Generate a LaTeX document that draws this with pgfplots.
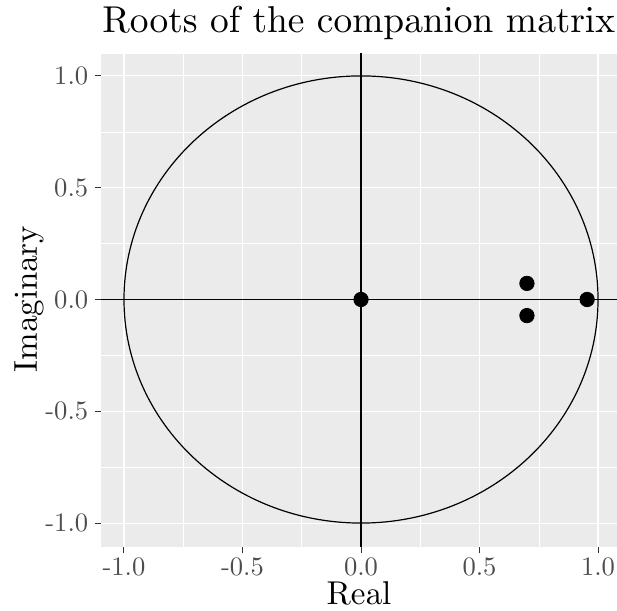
\documentclass[border=0pt]{standalone}
\usepackage{pgfplots}
\pgfplotsset{compat=1.18}
\definecolor{panelbg}{HTML}{EBEBEB}
\definecolor{ticktext}{HTML}{4D4D4D}
\definecolor{tickmark}{HTML}{333333}
\font\titlefont=cmr10 at 18.7pt
\font\labelfont=cmr10 at 16.5pt
\font\tickfont=cmr10 at 13.3pt
\begin{document}
\begin{tikzpicture}
\useasboundingbox (0,0) rectangle (308.5pt,305.5pt);
\begin{axis}[
    at={(50.5pt,32pt)}, anchor=south west,
    scale only axis,
    width=258pt, height=246.5pt,
    xmin=-1.097, xmax=1.08,
    ymin=-1.107, ymax=1.098,
    axis line style={draw=none},
    axis background/.style={fill=panelbg},
    xtick={-1,-0.5,0,0.5,1},
    ytick={-1,-0.5,0,0.5,1},
    xticklabels={-1.0,-0.5,0.0,0.5,1.0},
    yticklabels={-1.0,-0.5,0.0,0.5,1.0},
    minor tick num=1,
    tick align=outside,
    major tick length=3.2pt,
    minor tick length=0pt,
    major tick style={tickmark, line width=0.5pt},
    xmajorgrids, ymajorgrids, xminorgrids, yminorgrids,
    major grid style={white, line width=0.55pt},
    minor grid style={white, line width=0.28pt},
    ticklabel style={font=\tickfont, text=ticktext},
    xticklabel style={inner sep=0pt, yshift=-2.5pt},
    yticklabel style={inner sep=0pt, xshift=-3pt},
    xtick pos=bottom, ytick pos=left,
    clip=true,
]
\draw[black, line width=0.6pt] (axis cs:0,0) ellipse [x radius=1, y radius=1];
\draw[black, line width=0.6pt] (axis cs:-1.2,0) -- (axis cs:1.2,0);
\draw[black, line width=0.6pt] (axis cs:0,-1.2) -- (axis cs:0,1.2);
\addplot[only marks, mark=*, mark size=3.6pt, black] coordinates {
    (0,0) (0.7,0.072) (0.7,-0.072) (0.954,0)
};
\end{axis}
\node[anchor=base west, inner sep=0pt, font=\titlefont] at (51pt,289pt) {Roots of the companion matrix};
\node[anchor=base, inner sep=0pt, font=\labelfont] at (179.5pt,3pt) {Real};
\node[anchor=base, inner sep=0pt, rotate=90, font=\labelfont] at (18.5pt,156pt) {Imaginary};
\end{tikzpicture}
\end{document}
